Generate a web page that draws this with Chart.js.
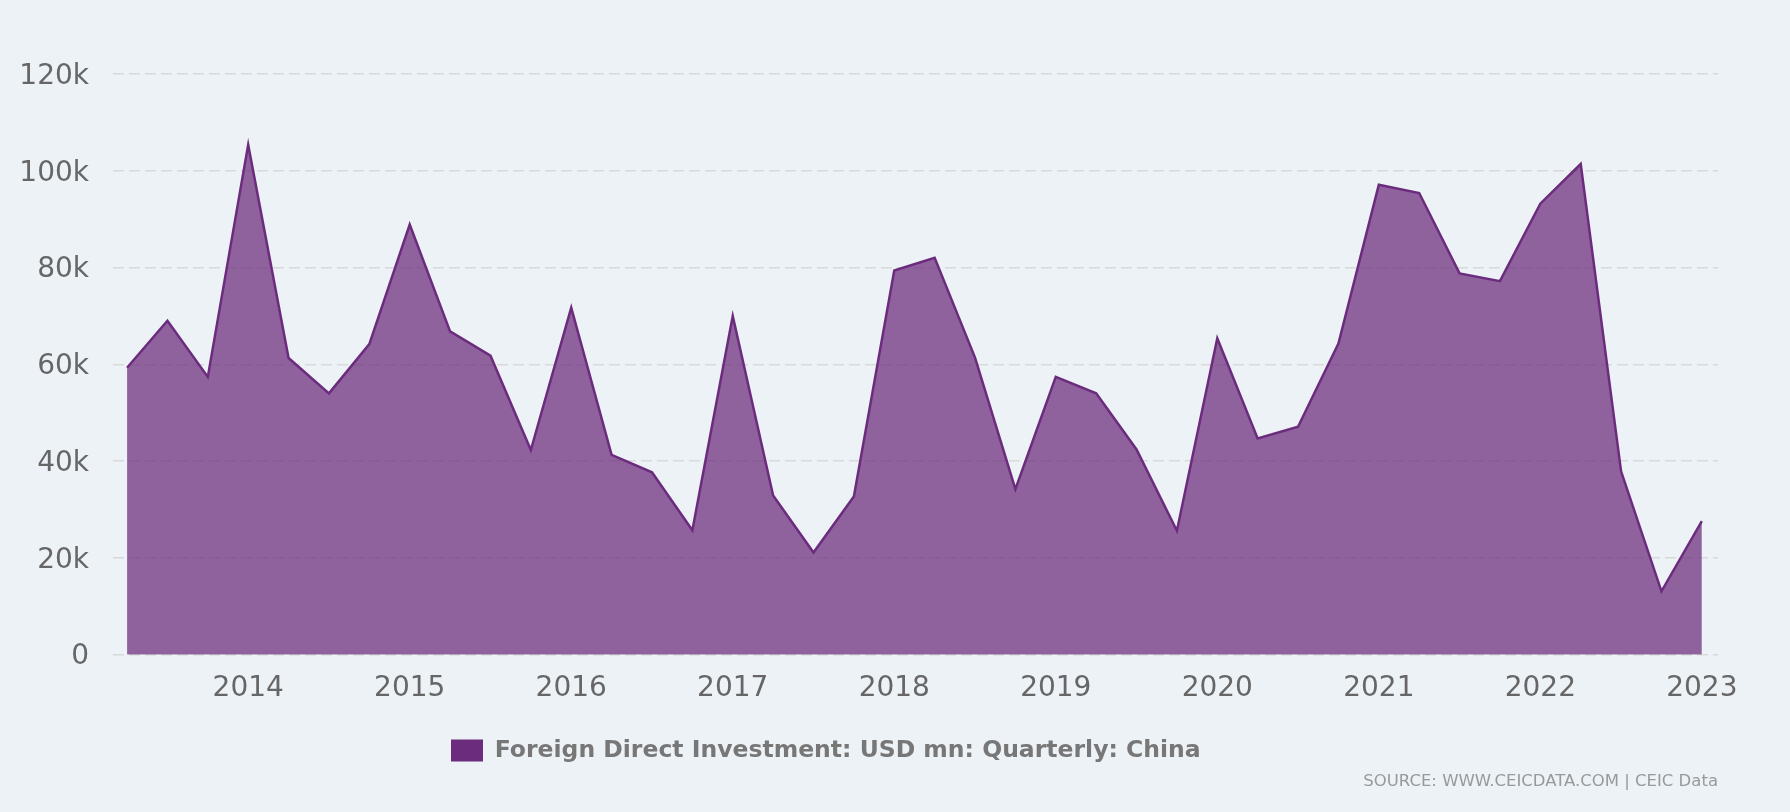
<!DOCTYPE html>
<html>
<head>
<meta charset="utf-8">
<script src="https://cdn.jsdelivr.net/npm/chart.js@4"></script>
<style>
  html, body { margin: 0; padding: 0; background: #edf2f7; }
  #wrap { width: 1790px; height: 812px; position: relative; }
</style>
</head>
<body>
<div id="wrap"><canvas id="c"></canvas></div>
<script>
// ---- data ----
const quarters = [
  '2013-03','2013-06','2013-09','2013-12',
  '2014-03','2014-06','2014-09','2014-12',
  '2015-03','2015-06','2015-09','2015-12',
  '2016-03','2016-06','2016-09','2016-12',
  '2017-03','2017-06','2017-09','2017-12',
  '2018-03','2018-06','2018-09','2018-12',
  '2019-03','2019-06','2019-09','2019-12',
  '2020-03','2020-06','2020-09','2020-12',
  '2021-03','2021-06','2021-09','2021-12',
  '2022-03','2022-06','2022-09','2022-12'
];
const fdiUsdMn = [
  59300, 69000, 57400, 105400,
  61300, 54000, 64200, 88900,
  66800, 61800, 42300, 71700,
  41300, 37700, 25700, 70000,
  32900, 21100, 32700, 79400,
  82000, 61400, 34200, 57400,
  54000, 42400, 25600, 65400,
  44700, 47100, 64300, 97100,
  95400, 78800, 77200, 93200,
  101400, 37900, 13100, 27600
];
const xTickYears = [2014, 2015, 2016, 2017, 2018, 2019, 2020, 2021, 2022, 2023];
const yTickValues = [0, 20000, 40000, 60000, 80000, 100000, 120000];
const seriesName = 'Foreign Direct Investment: USD mn: Quarterly: China';
const sourceText = 'SOURCE: WWW.CEICDATA.COM | CEIC Data';

// ---- styling ----
const LINE_COLOR = '#6c2c7d';
const FILL_COLOR = 'rgba(108,44,125,0.73)';
const LEGEND_BOX_X = 451;

// quarter label -> fractional year (period end)
const points = quarters.map((q, i) => {
  const [y, m] = q.split('-').map(Number);
  return { x: y + m / 12, y: fdiUsdMn[i] };
});

const legendShift = {
  id: 'legendShift',
  afterUpdate(chart) {
    const lg = chart.legend;
    if (!lg || !lg.legendHitBoxes || !lg.legendHitBoxes.length) return;
    const shift = LEGEND_BOX_X - lg.legendHitBoxes[0].left;
    lg.left += shift;
    lg.right += shift;
    lg.adjustHitBoxes();
  }
};

Chart.defaults.font.family = "'DejaVu Sans', sans-serif";

new Chart(document.getElementById('c'), {
  type: 'line',
  data: {
    datasets: [{
      label: seriesName,
      data: points,
      borderColor: LINE_COLOR,
      backgroundColor: FILL_COLOR,
      borderWidth: 2.5,
      fill: 'origin',
      pointRadius: 0,
      tension: 0
    }]
  },
  options: {
    responsive: true,
    maintainAspectRatio: false,
    animation: false,
    devicePixelRatio: 1,
    layout: { padding: { top: 74, right: 72, bottom: 20, left: 0 } },
    scales: {
      x: {
        type: 'linear',
        min: 2013.163,
        max: 2023.1,
        afterBuildTicks(scale) { scale.ticks = xTickYears.map(v => ({ value: v })); },
        afterFit(scale) { scale.height = 74; },
        grid: { display: false, drawTicks: false },
        border: { display: false },
        ticks: {
          autoSkip: false,
          maxRotation: 0,
          padding: 17,
          color: '#666666',
          font: { size: 28 },
          callback: v => String(v)
        }
      },
      y: {
        min: 0,
        max: 120000,
        afterBuildTicks(scale) { scale.ticks = yTickValues.map(v => ({ value: v })); },
        afterFit(scale) { scale.width = 113; },
        grid: { color: '#d9d9d9', lineWidth: 1.5, drawTicks: false },
        border: { display: false, dash: [11, 5] },
        ticks: {
          padding: 24,
          labelOffset: 2.5,
          color: '#666666',
          font: { size: 28 },
          callback: v => (v === 0 ? '0' : (v / 1000) + 'k')
        }
      }
    },
    plugins: {
      tooltip: { enabled: false },
      legend: {
        position: 'bottom',
        labels: {
          boxWidth: 32,
          boxHeight: 22,
          padding: 10,
          color: '#777777',
          font: { size: 23.5, weight: 'bold' },
          generateLabels(chart) {
            const items = Chart.defaults.plugins.legend.labels.generateLabels(chart);
            items.forEach(it => { it.fillStyle = LINE_COLOR; it.strokeStyle = LINE_COLOR; it.lineWidth = 0; });
            return items;
          }
        }
      },
      subtitle: {
        display: true,
        position: 'bottom',
        align: 'end',
        text: sourceText,
        color: '#999999',
        font: { size: 16.5, weight: 'normal' },
        padding: 0
      }
    }
  },
  plugins: [legendShift]
});
</script>
</body>
</html>
